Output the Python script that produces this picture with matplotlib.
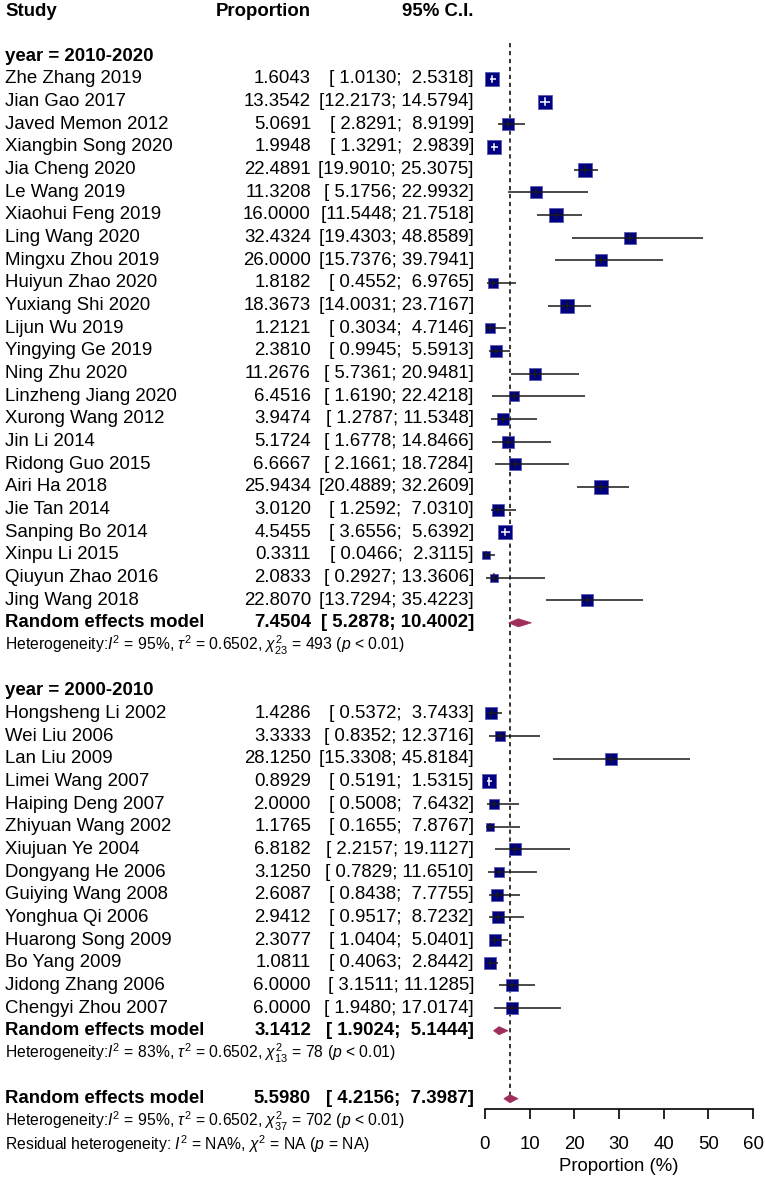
import numpy as np
import matplotlib
matplotlib.use('Agg')
import matplotlib.pyplot as plt
import matplotlib.transforms as mtransforms

plt.rcParams['font.family'] = ['Liberation Sans', 'DejaVu Sans']
plt.rcParams['mathtext.fontset'] = 'custom'
plt.rcParams['mathtext.rm'] = 'Liberation Sans'
plt.rcParams['mathtext.it'] = 'Liberation Sans:italic'
plt.rcParams['mathtext.bf'] = 'Liberation Sans:bold'

# subgroup year = 2010-2020
studies_a = ["Zhe Zhang 2019", "Jian Gao 2017", "Javed Memon 2012", "Xiangbin Song 2020",
             "Jia Cheng 2020", "Le Wang 2019", "Xiaohui Feng 2019", "Ling Wang 2020",
             "Mingxu Zhou 2019", "Huiyun Zhao 2020", "Yuxiang Shi 2020", "Lijun Wu 2019",
             "Yingying Ge 2019", "Ning Zhu 2020", "Linzheng Jiang 2020", "Xurong Wang 2012",
             "Jin Li 2014", "Ridong Guo 2015", "Airi Ha 2018", "Jie Tan 2014",
             "Sanping Bo 2014", "Xinpu Li 2015", "Qiuyun Zhao 2016", "Jing Wang 2018"]
prop_a = [1.6043, 13.3542, 5.0691, 1.9948, 22.4891, 11.3208, 16.0000, 32.4324,
          26.0000, 1.8182, 18.3673, 1.2121, 2.3810, 11.2676, 6.4516, 3.9474,
          5.1724, 6.6667, 25.9434, 3.0120, 4.5455, 0.3311, 2.0833, 22.8070]
lower_a = [1.0130, 12.2173, 2.8291, 1.3291, 19.9010, 5.1756, 11.5448, 19.4303,
           15.7376, 0.4552, 14.0031, 0.3034, 0.9945, 5.7361, 1.6190, 1.2787,
           1.6778, 2.1661, 20.4889, 1.2592, 3.6556, 0.0466, 0.2927, 13.7294]
upper_a = [2.5318, 14.5794, 8.9199, 2.9839, 25.3075, 22.9932, 21.7518, 48.8589,
           39.7941, 6.9765, 23.7167, 4.7146, 5.5913, 20.9481, 22.4218, 11.5348,
           14.8466, 18.7284, 32.2609, 7.0310, 5.6392, 2.3115, 13.3606, 35.4223]
pooled_a = (7.4504, 5.2878, 10.4002)
het_a = r"Heterogeneity:$I^2$ = 95%, $\tau^2$ = 0.6502, $\chi^2_{23}$ = 493 ($p$ < 0.01)"

# subgroup year = 2000-2010
studies_b = ["Hongsheng Li 2002", "Wei Liu 2006", "Lan Liu 2009", "Limei Wang 2007",
             "Haiping Deng 2007", "Zhiyuan Wang 2002", "Xiujuan Ye 2004", "Dongyang He 2006",
             "Guiying Wang 2008", "Yonghua Qi 2006", "Huarong Song 2009", "Bo Yang 2009",
             "Jidong Zhang 2006", "Chengyi Zhou 2007"]
prop_b = [1.4286, 3.3333, 28.1250, 0.8929, 2.0000, 1.1765, 6.8182, 3.1250,
          2.6087, 2.9412, 2.3077, 1.0811, 6.0000, 6.0000]
lower_b = [0.5372, 0.8352, 15.3308, 0.5191, 0.5008, 0.1655, 2.2157, 0.7829,
           0.8438, 0.9517, 1.0404, 0.4063, 3.1511, 1.9480]
upper_b = [3.7433, 12.3716, 45.8184, 1.5315, 7.6432, 7.8767, 19.1127, 11.6510,
           7.7755, 8.7232, 5.0401, 2.8442, 11.1285, 17.0174]
pooled_b = (3.1412, 1.9024, 5.1444)
het_b = r"Heterogeneity:$I^2$ = 83%, $\tau^2$ = 0.6502, $\chi^2_{13}$ = 78 ($p$ < 0.01)"

pooled_all = (5.5980, 4.2156, 7.3987)
het_all = r"Heterogeneity:$I^2$ = 95%, $\tau^2$ = 0.6502, $\chi^2_{37}$ = 702 ($p$ < 0.01)"
het_resid = r"Residual heterogeneity: $I^2$ = NA%, $\chi^2$ = NA ($p$ = NA)"
tau2 = 0.6502
xticks = [0, 10, 20, 30, 40, 50, 60]

W, H = 765, 1179
row_px, row0_px = 22.66, 11
fig = plt.figure(figsize=(W / 100, H / 100), dpi=100)
axis_px = 1109
ax = fig.add_axes([485 / W, 1 - axis_px / H, 268 / W, axis_px / H])
ax.set_xlim(0, 60)
ax.set_ylim((axis_px - row0_px) / row_px, -row0_px / row_px)
for s in ['top', 'left', 'right']:
    ax.spines[s].set_visible(False)
ax.spines['bottom'].set_linewidth(1.2)
ax.set_yticks([])
ax.set_xticks(xticks)
ax.tick_params(axis='x', length=7.2, width=1.2, pad=12, labelsize=13.4)
ax.set_xlabel("Proportion (%)", fontsize=13.4)
ax.xaxis.set_label_coords(0.5, 51,
                          transform=mtransforms.blended_transform_factory(ax.transAxes, ax.transData))
ax.xaxis.label.set_va('center')

tr = mtransforms.blended_transform_factory(fig.transFigure, ax.transData)
FS, FS_HET = 13.4, 11.3
X_STUDY, X_PROP, X_CI = 5 / W, 311 / W, 474 / W
SQ_COL, SQ_EDGE, DIA_COL = '#000080', '#5a5ab0', '#9e2f5c'


def logit(p):
    p = np.asarray(p) / 100
    return np.log(p / (1 - p))


# box size from random effects weight on logit scale
all_lo = np.array(lower_a + lower_b)
all_hi = np.array(upper_a + upper_b)
se = (logit(all_hi) - logit(all_lo)) / (2 * 1.96)
w = 1 / (se ** 2 + tau2)
sides = 13.8 * np.sqrt(w / w.max())
px_per_unit = (ax.transData.transform((60, 0))[0] - ax.transData.transform((0, 0))[0]) / 60


def row_text(y, name, p, lo, hi, bold=False):
    fw = 'bold' if bold else 'normal'
    ax.text(X_STUDY, y, name, transform=tr, ha='left', va='center', fontsize=FS, fontweight=fw)
    ax.text(X_PROP, y, f"{p:.4f}", transform=tr, ha='right', va='center', fontsize=FS, fontweight=fw)
    ax.text(X_CI, y, f"[{lo:7.4f}; {hi:7.4f}]", transform=tr, ha='right', va='center',
            fontsize=FS, fontweight=fw)


def study(y, name, p, lo, hi, side):
    row_text(y, name, p, lo, hi)
    ax.scatter([p], [y], s=(side * 0.72) ** 2, marker='s', color=SQ_COL, edgecolor=SQ_EDGE,
               linewidths=0.6, zorder=3, clip_on=False)
    col = 'white' if (hi - lo) * px_per_unit < 0.85 * side else '#1a1a1a'
    ax.plot([lo, hi], [y, y], color=col, lw=1.1, zorder=4, clip_on=False, solid_capstyle='butt')
    ax.plot([p, p], [y - 0.14, y + 0.14], color=col, lw=1.1, zorder=4, clip_on=False)


def pooled(y, est, lo, hi, het, het_y):
    row_text(y, "Random effects model", est, lo, hi, bold=True)
    ax.fill([lo, est, hi, est], [y, y - 0.18, y, y + 0.18], color=DIA_COL, lw=0.5,
            edgecolor=DIA_COL, zorder=3, clip_on=False)
    ax.text(X_STUDY, het_y, het, transform=tr, ha='left', va='center', fontsize=FS_HET)


# header
ax.text(X_STUDY, 0, "Study", transform=tr, ha='left', va='center', fontsize=FS, fontweight='bold')
ax.text(X_PROP, 0, "Proportion", transform=tr, ha='right', va='center', fontsize=FS, fontweight='bold')
ax.text(X_CI, 0, "95% C.I.", transform=tr, ha='right', va='center', fontsize=FS, fontweight='bold')

# group 1
ax.text(X_STUDY, 2, "year = 2010-2020", transform=tr, ha='left', va='center', fontsize=FS,
        fontweight='bold')
y = 3
for i, name in enumerate(studies_a):
    study(y, name, prop_a[i], lower_a[i], upper_a[i], sides[i])
    y += 1
pooled(y, *pooled_a, het_a, y + 1)

# group 2
y += 3
ax.text(X_STUDY, y, "year = 2000-2010", transform=tr, ha='left', va='center', fontsize=FS,
        fontweight='bold')
y += 1
for i, name in enumerate(studies_b):
    study(y, name, prop_b[i], lower_b[i], upper_b[i], sides[len(studies_a) + i])
    y += 1
pooled(y, *pooled_b, het_b, y + 1)

# overall
y += 3
pooled(y, *pooled_all, het_all, y + 1)
ax.text(X_STUDY, y + 2, het_resid, transform=tr, ha='left', va='center', fontsize=FS_HET)

ax.plot([pooled_all[0], pooled_all[0]], [1.4, y], color='black', lw=1.1,
        linestyle=(0, (2.8, 2.4)), zorder=1, clip_on=False)

fig.savefig('out.png', dpi=100)
